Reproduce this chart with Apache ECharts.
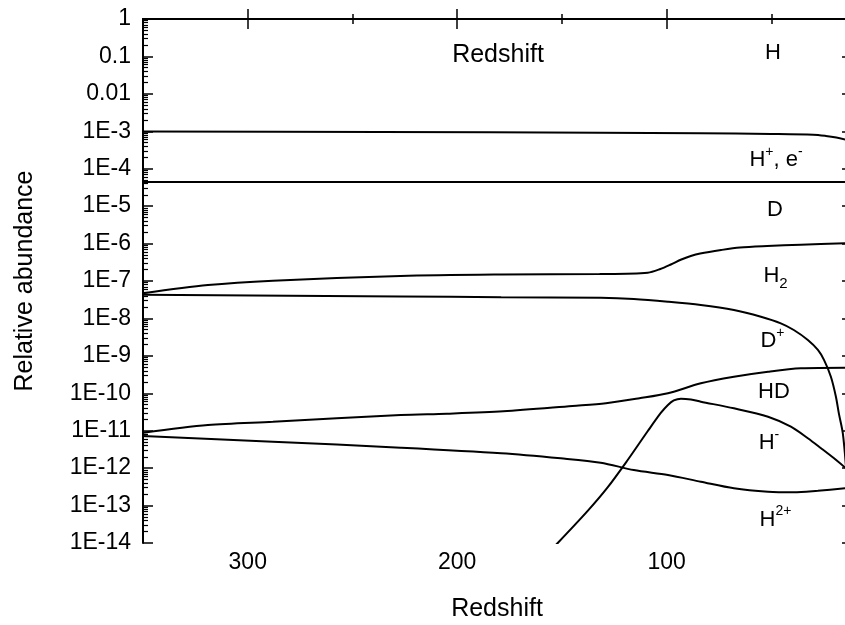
<!DOCTYPE html>
<html><head><meta charset="utf-8">
<script src="https://cdn.jsdelivr.net/npm/echarts@6/dist/echarts.min.js"></script>
<style>html,body{margin:0;padding:0;background:#fff}#c{width:845px;height:625px}</style>
</head><body><div id="c"></div>
<script>
// ---- data (redshift z, relative abundance) ----
const xTickLabels = [300, 200, 100];
const xMinorTicks = [250, 150, 50];
const yDecades = [0, -1, -2, -3, -4, -5, -6, -7, -8, -9, -10, -11, -12, -13, -14];

const hZ = [350, 12];
const hV = [1, 1];

const hPlusZ = [350, 237, 132, 84, 50, 30, 24, 19, 14];
const hPlusV = [9.9e-4, 9.6e-4, 9.1e-4, 8.9e-4, 8.5e-4, 8.1e-4, 7.5e-4, 6.8e-4, 5.9e-4];

const dZ = [350, 12];
const dV = [4.4e-5, 4.4e-5];

const h2Z = [350, 319, 288, 227, 179, 132, 109, 103, 98, 93, 88.5, 84, 74, 65, 52, 36, 14];
const h2V = [4.7e-8, 7.8e-8, 1.02e-7, 1.36e-7, 1.49e-7, 1.54e-7, 1.67e-7, 2.09e-7, 2.76e-7, 3.76e-7, 4.66e-7, 5.43e-7, 6.74e-7, 7.86e-7, 8.61e-7, 9.33e-7, 1.02e-6];

const dPlusZ = [350, 227, 179, 131.5, 115.7, 99.4, 83.7, 67.9, 55, 45.5, 39.3, 32.6, 27.8, 24.9, 21.6, 19.2, 17.8, 15.9, 14.4];
const dPlusV = [4.3e-8, 3.85e-8, 3.7e-8, 3.55e-8, 3.3e-8, 2.8e-8, 2.29e-8, 1.68e-8, 1.11e-8, 7.4e-9, 4.9e-9, 2.65e-9, 1.44e-9, 7.8e-10, 2.77e-10, 8.1e-11, 2.9e-11, 8.5e-12, 1.1e-12];

const hdZ = [350, 319, 288, 227, 205, 178, 145, 129, 113, 99.4, 83.7, 67.9, 51.6, 35.9, 14.4];
const hdV = [8.85e-12, 1.42e-11, 1.74e-11, 2.63e-11, 2.85e-11, 3.3e-11, 4.58e-11, 5.41e-11, 7.36e-11, 1.0e-10, 1.85e-10, 2.77e-10, 3.77e-10, 4.65e-10, 4.83e-10];

const hMinusZ = [156.8, 152, 137.7, 128.1, 118.6, 109, 102.8, 99.4, 96.6, 93.2, 88.4, 83.7, 67.9, 51.6, 40.7, 32.6, 26.3, 20.1, 14.4];
const hMinusV = [5.4e-15, 1e-14, 7.2e-14, 3.1e-13, 1.65e-12, 9.8e-12, 2.98e-11, 4.88e-11, 6.43e-11, 7.18e-11, 6.82e-11, 5.97e-11, 3.97e-11, 2.37e-11, 1.28e-11, 6.28e-12, 3.4e-12, 1.83e-12, 9.9e-13];

const h2PlusZ = [350, 288, 227, 179, 150.6, 131.5, 115.7, 99.4, 83.7, 67.9, 51.6, 39.3, 27.8, 14.4];
const h2PlusV = [7.23e-12, 5.09e-12, 3.52e-12, 2.5e-12, 1.83e-12, 1.4e-12, 8.9e-13, 6.56e-13, 4.35e-13, 2.9e-13, 2.35e-13, 2.27e-13, 2.5e-13, 2.9e-13];

// ---- chart ----
const FONT = "'Liberation Sans', Arial, sans-serif";
const zip = (a, b) => a.map((x, i) => [x, b[i]]);
const yMinor = [];
for (let n = -14; n < 0; n++) for (let k = 2; k <= 9; k++) yMinor.push(n + Math.log10(k));

const AX = { lineStyle: { color: '#000', width: 2 } };
const xBase = { type: 'value', min: 12, max: 350, inverse: true, splitLine: { show: false } };
const yBase = { type: 'value', min: -14, max: 0, splitLine: { show: false } };
const noLabel = { show: false };

function lineSeries(name, z, v) {
  return {
    name, type: 'line', data: zip(z, v), xAxisIndex: 0, yAxisIndex: 0,
    symbol: 'none', smooth: 0.3, clip: true,
    lineStyle: { color: '#000', width: 2 }, silent: true
  };
}

const chart = echarts.init(document.getElementById('c'), null, { renderer: 'canvas' });
const rich = {
  n: { fontSize: 22, lineHeight: 30, fontFamily: FONT, color: '#000' },
  sup: { fontSize: 14, lineHeight: 14, verticalAlign: 'top', fontFamily: FONT, color: '#000' },
  sub: { fontSize: 15, lineHeight: 12, verticalAlign: 'bottom', fontFamily: FONT, color: '#000' }
};
function lab(text, x, y, size) {
  return {
    type: 'text', x, y, silent: true,
    style: { text, rich, fontSize: size || 22, fontFamily: FONT, fill: '#000',
      align: 'center', verticalAlign: 'middle', textAlign: 'center', textVerticalAlign: 'middle' }
  };
}

chart.setOption({
  animation: false,
  backgroundColor: '#fff',
  textStyle: { fontFamily: FONT },
  grid: { left: 143, right: -6, top: 19, bottom: 82, containLabel: false, outerBoundsMode: 'none' },
  xAxis: [
    Object.assign({}, xBase, {
      position: 'bottom', axisLine: AX,
      axisTick: { inside: true, length: 10, customValues: xTickLabels, lineStyle: { color: '#000', width: 1.5 } },
      axisLabel: { customValues: xTickLabels, fontSize: 23, color: '#000', margin: 8, fontFamily: FONT },
      name: 'Redshift', nameLocation: 'middle', nameGap: 54,
      nameTextStyle: { fontSize: 25, color: '#000', fontFamily: FONT }
    }),
    Object.assign({}, xBase, {
      position: 'bottom', axisLine: { show: false }, axisLabel: noLabel,
      axisTick: { inside: true, length: 5, customValues: xMinorTicks, lineStyle: { color: '#000', width: 1.5 } }
    }),
    Object.assign({}, xBase, {
      position: 'top', axisLine: AX, axisLabel: noLabel,
      axisTick: { inside: true, length: 10, customValues: xTickLabels, lineStyle: { color: '#000', width: 1.5 } }
    }),
    Object.assign({}, xBase, {
      position: 'top', axisLine: { show: false }, axisLabel: noLabel,
      axisTick: { inside: true, length: 5, customValues: xMinorTicks, lineStyle: { color: '#000', width: 1.5 } }
    })
  ],
  yAxis: [
    { type: 'log', logBase: 10, min: 1e-14, max: 1, position: 'left',
      axisLine: { show: false }, axisTick: { show: false }, axisLabel: noLabel, splitLine: { show: false } },
    Object.assign({}, yBase, {
      position: 'left', interval: 1, axisLine: AX,
      axisTick: { inside: true, length: 10, lineStyle: { color: '#000', width: 1.5 } },
      axisLabel: {
        fontSize: 23, color: '#000', margin: 12, fontFamily: FONT,
        formatter: v => { const n = Math.round(v); return n === 0 ? '1' : n === -1 ? '0.1' : n === -2 ? '0.01' : '1E' + n; }
      },
      name: 'Relative abundance', nameLocation: 'middle', nameGap: 105,
      nameTextStyle: { fontSize: 25, color: '#000', fontFamily: FONT }
    }),
    Object.assign({}, yBase, {
      position: 'left', axisLine: { show: false }, axisLabel: noLabel,
      axisTick: { inside: true, length: 5, customValues: yMinor, lineStyle: { color: '#000', width: 1.2 } }
    }),
    Object.assign({}, yBase, {
      position: 'right', interval: 1, axisLine: AX, axisLabel: noLabel,
      axisTick: { inside: true, length: 9, lineStyle: { color: '#000', width: 1.5 } }
    }),
    Object.assign({}, yBase, {
      position: 'right', axisLine: { show: false }, axisLabel: noLabel,
      axisTick: { inside: true, length: 5, customValues: yMinor, lineStyle: { color: '#000', width: 1.2 } }
    })
  ],
  series: [
    lineSeries('H', hZ, hV),
    lineSeries('H+, e-', hPlusZ, hPlusV),
    lineSeries('D', dZ, dV),
    lineSeries('H2', h2Z, h2V),
    lineSeries('D+', dPlusZ, dPlusV),
    lineSeries('HD', hdZ, hdV),
    lineSeries('H-', hMinusZ, hMinusV),
    lineSeries('H2+', h2PlusZ, h2PlusV)
  ],
  graphic: [
    { type: 'text', x: 498, y: 55, silent: true,
      style: { text: 'Redshift', fontSize: 25, fontFamily: FONT, fill: '#000',
        align: 'center', verticalAlign: 'middle', textAlign: 'center', textVerticalAlign: 'middle' } },
    lab('{n|H}', 773, 53),
    lab('{n|H}{sup|+}{n|, e}{sup|-}', 776, 160),
    lab('{n|D}', 775, 210),
    lab('{n|H}{sub|2}', 775.5, 276),
    lab('{n|D}{sup|+}', 772.5, 341),
    lab('{n|HD}', 774, 392),
    lab('{n|H}{sup|-}', 769, 443),
    lab('{n|H}{sup|2+}', 775.5, 519.5)
  ]
});
</script></body></html>
